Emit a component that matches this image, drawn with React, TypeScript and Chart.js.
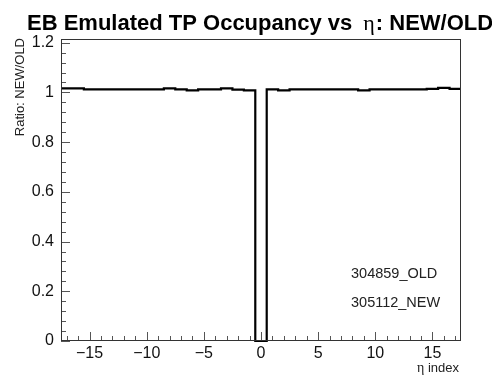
import React, { useEffect, useRef } from "react";
import { Chart, registerables } from "chart.js";

Chart.register(...registerables);

const etaIndex = [
  -17, -16, -15, -14, -13, -12, -11, -10, -9, -8, -7, -6, -5, -4, -3, -2, -1,
  0, 1, 2, 3, 4, 5, 6, 7, 8, 9, 10, 11, 12, 13, 14, 15, 16, 17,
];
const ratio = [
  1.016, 1.016, 1.012, 1.012, 1.012, 1.012, 1.012, 1.012, 1.012, 1.016, 1.012,
  1.008, 1.012, 1.012, 1.016, 1.011, 1.008, 0, 1.012, 1.008, 1.012, 1.012,
  1.012, 1.012, 1.012, 1.012, 1.008, 1.012, 1.012, 1.012, 1.012, 1.012, 1.014,
  1.018, 1.014,
];
const xTickValues = [-15, -10, -5, 0, 5, 10, 15];
const yTickValues = [0, 0.2, 0.4, 0.6, 0.8, 1.0, 1.2];
const titleParts = ["EB Emulated TP Occupancy vs", "\u03b7", ": NEW/OLD"];
const yAxisTitle = "Ratio: NEW/OLD";
const xAxisTitle = ["\u03b7", " index"];
const legendLabels = ["304859_OLD", "305112_NEW"];

const SANS = '"Liberation Sans", Arial, Helvetica, sans-serif';
const SERIF = '"Liberation Serif", "DejaVu Serif", serif';

const decorPlugin = {
  id: "rootDecor",
  afterDatasetsDraw(chart: any) {
    const ctx = chart.ctx as CanvasRenderingContext2D;
    const { left, right, top, bottom } = chart.chartArea;
    const xs = chart.scales.x;
    const ys = chart.scales.y;
    ctx.save();
    // ticks
    ctx.strokeStyle = "#555";
    ctx.lineWidth = 1;
    ctx.beginPath();
    for (let v = -17; v <= 17; v++) {
      const px = Math.round(xs.getPixelForValue(v)) + 0.5;
      const len = v % 5 === 0 ? 9 : 5;
      ctx.moveTo(px, bottom);
      ctx.lineTo(px, bottom - len);
    }
    for (let i = 0; i <= 30; i++) {
      const v = i * 0.04;
      const py = Math.round(ys.getPixelForValue(v)) + 0.5;
      const len = i % 5 === 0 ? 9 : 5;
      ctx.moveTo(left, py);
      ctx.lineTo(left + len, py);
    }
    ctx.stroke();
    // frame
    ctx.strokeStyle = "#333";
    ctx.strokeRect(left + 0.5, top + 0.5, right - left - 1, bottom - top - 1);

    // title
    ctx.fillStyle = "#000";
    ctx.textBaseline = "alphabetic";
    ctx.textAlign = "left";
    ctx.font = `bold 22px ${SANS}`;
    ctx.fillText(titleParts[0], 27, 30);
    let tx = 27 + ctx.measureText(titleParts[0] + " ").width + 5;
    ctx.font = `22px ${SERIF}`;
    ctx.fillText(titleParts[1], tx, 30);
    tx += ctx.measureText(titleParts[1]).width + 1;
    ctx.font = `bold 22px ${SANS}`;
    ctx.fillText(titleParts[2], tx, 30);

    // y axis title
    ctx.save();
    ctx.translate(20, 38);
    ctx.rotate(-Math.PI / 2);
    ctx.font = `13px ${SANS}`;
    ctx.textAlign = "right";
    ctx.textBaseline = "middle";
    ctx.fillStyle = "#222";
    ctx.fillText(yAxisTitle, 0, 0);
    ctx.restore();

    // x axis title
    ctx.font = `13px ${SANS}`;
    ctx.textAlign = "right";
    ctx.textBaseline = "alphabetic";
    ctx.fillStyle = "#222";
    const w2 = ctx.measureText(xAxisTitle[1]).width;
    ctx.fillText(xAxisTitle[1], 459, 372);
    ctx.font = `14px ${SERIF}`;
    ctx.fillText(xAxisTitle[0], 459 - w2, 372);

    // legend texts
    ctx.font = `14.5px ${SANS}`;
    ctx.textAlign = "left";
    ctx.textBaseline = "middle";
    ctx.fillStyle = "#222";
    ctx.fillText(legendLabels[0], 351, 274);
    ctx.fillText(legendLabels[1], 351, 303);
    ctx.restore();
  },
};

export default function App() {
  const ref = useRef<HTMLCanvasElement | null>(null);
  useEffect(() => {
    if (!ref.current) return;
    const points = etaIndex.map((e, i) => ({ x: e - 0.5, y: ratio[i] }));
    points.push({
      x: etaIndex[etaIndex.length - 1] + 0.5,
      y: ratio[ratio.length - 1],
    });
    const chart = new Chart(ref.current, {
      type: "line",
      data: {
        datasets: [
          {
            data: points,
            borderColor: "#000",
            borderWidth: 2.2,
            stepped: "before",
            pointRadius: 0,
            fill: false,
            clip: 3,
          } as any,
        ],
      },
      plugins: [decorPlugin],
      options: {
        responsive: false,
        animation: false,
        layout: { padding: { top: 39, right: 31, left: 0, bottom: 0 } },
        plugins: {
          legend: { display: false },
          tooltip: { enabled: false },
          title: { display: false },
        },
        scales: {
          x: {
            type: "linear",
            min: -17.5,
            max: 17.5,
            grid: { display: false, drawTicks: false },
            border: { display: false },
            afterBuildTicks: (s: any) => {
              s.ticks = xTickValues.map((v) => ({ value: v }));
            },
            afterFit: (s: any) => {
              s.height = 36;
            },
            ticks: {
              padding: 3,
              maxRotation: 0,
              autoSkip: false,
              color: "#111",
              font: { family: SANS, size: 16 },
              callback: (v: any) => String(v).replace("-", "\u2212"),
            },
          },
          y: {
            type: "linear",
            min: 0,
            max: 1.215,
            grid: { display: false, drawTicks: false },
            border: { display: false },
            afterBuildTicks: (s: any) => {
              s.ticks = yTickValues.map((v) => ({ value: v }));
            },
            afterFit: (s: any) => {
              s.width = 61;
            },
            ticks: {
              padding: 7,
              autoSkip: false,
              color: "#111",
              font: { family: SANS, size: 16 },
              callback: (v: any) => String(Number(Number(v).toFixed(1))),
            },
          },
        },
      } as any,
    });
    return () => chart.destroy();
  }, []);
  return (
    <div style={{ position: "fixed", left: 0, top: 0, width: 492, height: 377, background: "#fff" }}>
      <canvas ref={ref} width={492} height={377} style={{ display: "block" }} />
    </div>
  );
}
